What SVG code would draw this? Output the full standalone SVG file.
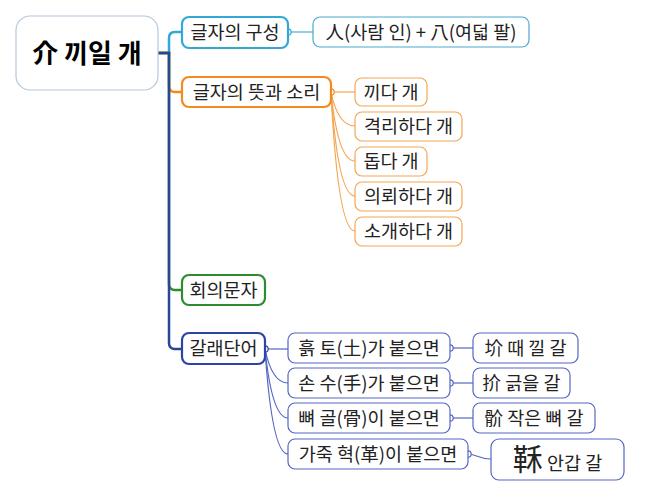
<svg xmlns="http://www.w3.org/2000/svg" width="646" height="495" viewBox="0 0 646 495">
<style>
text{font-family:"Noto Sans CJK KR","Malgun Gothic",sans-serif;font-size:18.5px;fill:#222;text-anchor:middle}
.root{fill:#fff;stroke:#b4c8dc;stroke-width:1.2}
.main{fill:#fff;stroke-width:2.2}
.sub{fill:#fff;stroke-width:1.2}
.c1{stroke:#33a8d6}
.c2{stroke:#f28a1e}
.c3{stroke:#2e8b2e}
.c4{stroke:#2c44a8}
.s1{stroke:#4aaad0}
.s2{stroke:#f5a552}
.s4{stroke:#5566c4}
.ln{fill:none}
.dot{fill:#fff;stroke-width:1.2}
</style>
<g id="connectors">
<path class="ln c1" stroke-width="2.5" d="M158 53 H169 V38 Q169 32 175 32 H182"/>
<path class="ln c2" stroke-width="2.5" d="M158 53 H169 V86 Q169 92 175 92 H182"/>
<path class="ln c3" stroke-width="2.5" d="M158 53 H169 V284 Q169 290 175 290 H182"/>
<path class="ln" stroke="#2a4796" stroke-width="2.5" d="M158 53 H169 V343 Q169 349 175 349 H182"/>
<path class="ln s1" stroke-width="1.2" d="M288 32 H313"/>
<path class="ln s2" stroke-width="1.2" d="M331 92 H355"/>
<path class="ln s2" stroke-width="1.2" d="M331 92 Q338 126 355 126"/>
<path class="ln s2" stroke-width="1.2" d="M331 92 Q338 161 355 161"/>
<path class="ln s2" stroke-width="1.2" d="M331 92 Q338 196 355 196"/>
<path class="ln s2" stroke-width="1.2" d="M331 92 Q338 231 355 231"/>
<path class="ln s4" stroke-width="1.2" d="M265 349 H288"/>
<path class="ln s4" stroke-width="1.2" d="M265 349 Q272 383 288 383"/>
<path class="ln s4" stroke-width="1.2" d="M265 349 Q272 418 288 418"/>
<path class="ln s4" stroke-width="1.2" d="M265 349 Q272 454 288 454"/>
<path class="ln s4" stroke-width="1.2" d="M450 348 H473"/>
<path class="ln s4" stroke-width="1.2" d="M450 383 H473"/>
<path class="ln s4" stroke-width="1.2" d="M450 418 H473"/>
<path class="ln s4" stroke-width="1.2" d="M468 454 C476 454 478 459 491 459"/>
<circle class="dot c1" cx="288" cy="32" r="3.2"/>
<circle class="dot c2" cx="331" cy="92" r="3.2"/>
<circle class="dot c4" cx="265" cy="349" r="3.2"/>
<circle class="dot s4" cx="450" cy="348" r="3.2"/>
<circle class="dot s4" cx="450" cy="383" r="3.2"/>
<circle class="dot s4" cx="450" cy="418" r="3.2"/>
<circle class="dot s4" cx="468" cy="454" r="3.2"/>
</g>
<g id="root"><rect class="root" x="16" y="16" width="142" height="74" rx="14"/><text x="87" y="63" style="font-size:26px;font-weight:bold;fill:#000">介 끼일 개</text></g>
<g id="n1"><rect class="main c1" x="182" y="17" width="106" height="31" rx="7"/><text x="235" y="39">글자의 구성</text></g>
<g id="n1c1"><rect class="sub s1" x="313" y="17" width="216" height="30" rx="7"/><text x="421" y="39">人(사람 인) + 八(여덟 팔)</text></g>
<g id="n2"><rect class="main c2" x="182" y="77" width="149" height="30" rx="7"/><text x="256.5" y="99">글자의 뜻과 소리</text></g>
<g id="n2c1"><rect class="sub s2" x="355" y="78" width="72" height="28" rx="7"/><text x="391" y="99">끼다 개</text></g>
<g id="n2c2"><rect class="sub s2" x="355" y="112" width="107" height="29" rx="7"/><text x="408.5" y="133">격리하다 개</text></g>
<g id="n2c3"><rect class="sub s2" x="355" y="147" width="72" height="29" rx="7"/><text x="391" y="168">돕다 개</text></g>
<g id="n2c4"><rect class="sub s2" x="355" y="182" width="107" height="29" rx="7"/><text x="408.5" y="203">의뢰하다 개</text></g>
<g id="n2c5"><rect class="sub s2" x="355" y="217" width="107" height="29" rx="7"/><text x="408.5" y="238">소개하다 개</text></g>
<g id="n3"><rect class="main c3" x="182" y="275" width="83" height="30" rx="7"/><text x="223.5" y="297">회의문자</text></g>
<g id="n4"><rect class="main c4" x="182" y="333" width="83" height="31" rx="7"/><text x="223.5" y="355">갈래단어</text></g>
<g id="n4c1"><rect class="sub s4" x="288" y="333" width="162" height="30" rx="7"/><text x="369" y="355">흙 토(土)가 붙으면</text></g>
<g id="n4c2"><rect class="sub s4" x="288" y="368" width="162" height="30" rx="7"/><text x="369" y="390">손 수(手)가 붙으면</text></g>
<g id="n4c3"><rect class="sub s4" x="288" y="403" width="162" height="30" rx="7"/><text x="369" y="425">뼈 골(骨)이 붙으면</text></g>
<g id="n4c4"><rect class="sub s4" x="288" y="439" width="180" height="30" rx="7"/><text x="378" y="461">가죽 혁(革)이 붙으면</text></g>
<g id="g1"><rect class="sub s4" x="473" y="333" width="105" height="30" rx="7"/><text x="525.5" y="355">圿 때 낄 갈</text></g>
<g id="g2"><rect class="sub s4" x="473" y="368" width="97" height="30" rx="7"/><text x="521.5" y="390">扴 긁을 갈</text></g>
<g id="g3"><rect class="sub s4" x="473" y="403" width="122" height="30" rx="7"/><text x="534" y="425">骱 작은 뼈 갈</text></g>
<g id="g4"><rect class="sub s4" x="491" y="439" width="133" height="41" rx="8"/><text x="557.5" y="470"><tspan style="font-size:30px">鞂</tspan> 안갑 갈</text></g>
</svg>
